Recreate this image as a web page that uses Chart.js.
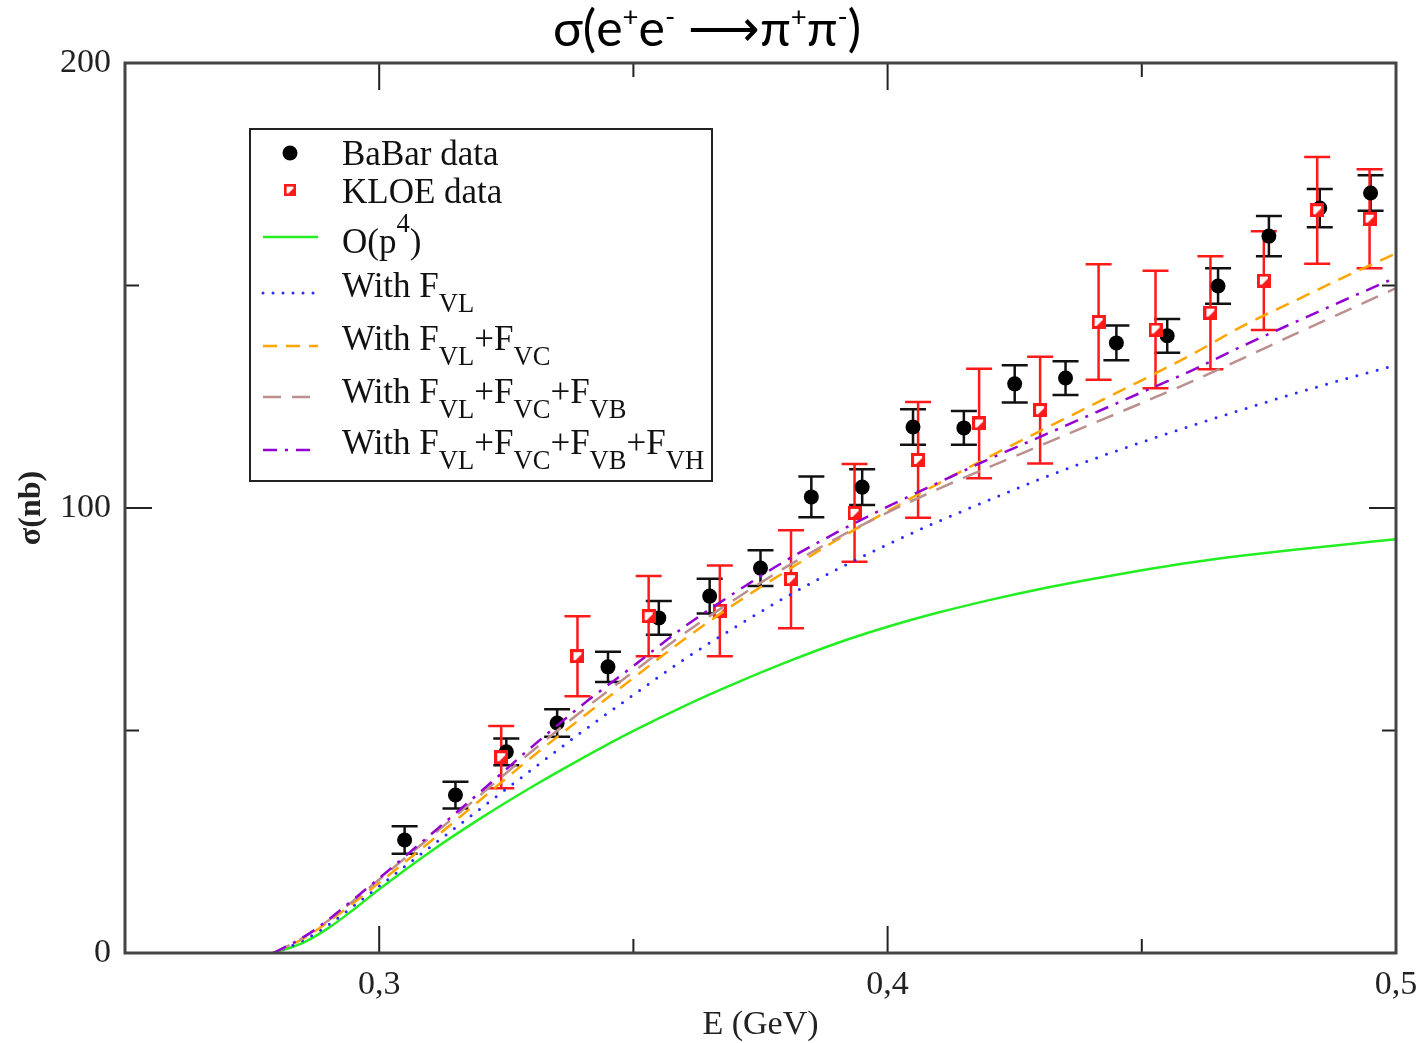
<!DOCTYPE html>
<html>
<head>
<meta charset="utf-8">
<title>σ(e+e- → π+π-)</title>
<script src="https://cdn.jsdelivr.net/npm/chart.js@4.4.1/dist/chart.umd.min.js"></script>
<style>
  html, body { margin: 0; padding: 0; background: #fff; }
  #wrap { width: 1425px; height: 1043px; position: relative; }
</style>
</head>
<body>
<div id="wrap"><canvas id="chart"></canvas></div>
<script>
// energy grid of the theory curves (GeV)
var curveE = [0.2792, 0.285, 0.29, 0.295, 0.30, 0.31, 0.32, 0.33, 0.34, 0.35, 0.36, 0.37, 0.38,
              0.39, 0.40, 0.41, 0.42, 0.43, 0.44, 0.45, 0.46, 0.47, 0.48, 0.49, 0.50];
// cross sections (nb)
var sigmaOp4   = [0, 2.3, 5.6, 9.8, 14.3, 22.7, 30.3, 37.3, 43.8, 49.9, 55.5, 60.6, 65.3,
                  69.6, 73.3, 76.5, 79.3, 81.8, 84.0, 86.0, 87.8, 89.3, 90.6, 91.8, 93.0];
var sigmaVL    = [0, 2.8, 6.3, 10.6, 15, 23.8, 32.5, 41.2, 49.8, 58, 66, 73.2, 80,
                  86.2, 91.8, 97, 101.8, 106.5, 110.8, 114.8, 118.6, 122.2, 125.7, 129.0, 132.1];
var sigmaVLVC  = [0, 3.2, 7, 11.3, 15.8, 25, 34.5, 44, 53, 61.8, 70.5, 78.5, 85.8,
                  92.8, 99.3, 105.5, 111.5, 117.3, 123, 128.7, 134.6, 141, 146.5, 152, 157.2];
var sigmaVLVCVB = [0, 3.4, 7.3, 11.8, 16.5, 26, 35.6, 45.3, 54.5, 63.2, 71.8, 79.5, 86.7,
                  93.2, 99, 104.3, 109.2, 114, 118.8, 123.6, 128.5, 133.7, 139, 144.2, 149.4];
var sigmaAll   = [0, 3.5, 7.5, 12.1, 16.8, 26.5, 36.3, 46.3, 55.8, 64.5, 73.3, 81, 88.2,
                  94.5, 100.3, 105.7, 111, 116, 121, 126, 131, 136.5, 141.7, 146.8, 151.8];

// BaBar measurements
var babarE     = [0.305, 0.315, 0.325, 0.335, 0.345, 0.355, 0.365, 0.375, 0.385, 0.395,
                  0.405, 0.415, 0.425, 0.435, 0.445, 0.455, 0.465, 0.475, 0.485, 0.495];
var babarSigma = [25.4, 35.5, 45.2, 51.7, 64.3, 75.3, 80.2, 86.5, 102.5, 104.7,
                  118.2, 118.0, 127.9, 129.2, 137.1, 138.7, 149.9, 161.1, 167.4, 170.8];
var babarErr   = [3.1, 3.0, 3.0, 3.1, 3.4, 3.8, 3.9, 4.0, 4.6, 4.0,
                  4.0, 3.8, 4.2, 3.8, 3.9, 3.8, 4.0, 4.5, 4.3, 4.0];

// KLOE measurements
var kloeE      = [0.324, 0.339, 0.353, 0.367, 0.381, 0.3935, 0.406, 0.418, 0.430, 0.4415,
                  0.4527, 0.4635, 0.474, 0.4845, 0.4948];
var kloeSigma  = [44.0, 66.7, 75.7, 76.9, 84.0, 98.9, 110.8, 119.0, 122.0, 141.8,
                  140.1, 143.9, 151.1, 166.9, 165.0];
var kloeErr    = [7.0, 9.0, 9.0, 10.2, 11.0, 11.0, 13.0, 12.3, 12.0, 13.0,
                  13.2, 12.7, 11.1, 12.0, 11.1];

var xTicks = [0.3, 0.4, 0.5];
var xMinor = [0.35, 0.45];
var yTicks = [0, 100, 200];
var yMinor = [50, 150];

var colGreen = '#22ee22', colBlue = '#2a2aff', colOrange = '#ffa500',
    colBrown = '#bc8f8f', colViolet = '#9400d3', colRed = '#ff1a1a';

var serif = '"Liberation Serif", "Times New Roman", serif';

function pts(xs, ys) {
  return xs.map(function(x, i) { return { x: x, y: ys[i] }; });
}

// KLOE marker: red square with white interior
function kloeMarker() {
  var c = document.createElement('canvas');
  c.width = 14; c.height = 14;
  var g = c.getContext('2d');
  g.fillStyle = colRed; g.fillRect(0, 0, 14, 14);
  g.fillStyle = '#fff'; g.fillRect(3, 3, 8, 8);
  g.fillStyle = colRed;
  g.beginPath(); g.moveTo(11, 5); g.lineTo(11, 11); g.lineTo(5, 11); g.closePath(); g.fill();
  return c;
}
var kloeIcon = kloeMarker();

// legend rows, each label is a list of [text, 'sub'|'sup'|undefined]
var legendRows = [
  { kind: 'dot', label: [['BaBar data']] },
  { kind: 'square', label: [['KLOE data']] },
  { kind: 'line', color: colGreen, dash: [], label: [['O(p'], ['4', 'sup'], [')']] },
  { kind: 'line', color: colBlue, dash: [0, 10], cap: 'round', width: 3, label: [['With F'], ['VL', 'sub']] },
  { kind: 'line', color: colOrange, dash: [14, 9], label: [['With F'], ['VL', 'sub'], ['+F'], ['VC', 'sub']] },
  { kind: 'line', color: colBrown, dash: [18, 11], label: [['With F'], ['VL', 'sub'], ['+F'], ['VC', 'sub'], ['+F'], ['VB', 'sub']] },
  { kind: 'line', color: colViolet, dash: [14, 8, 3, 8], label: [['With F'], ['VL', 'sub'], ['+F'], ['VC', 'sub'], ['+F'], ['VB', 'sub'], ['+F'], ['VH', 'sub']] }
];

// draws text runs with sub/superscripts; opt gives the small size ratio and offsets
function drawRich(ctx, x, y, parts, size, family, opt) {
  parts.forEach(function(p) {
    var small = p[1] === 'sub' || p[1] === 'sup';
    var fs = small ? size * opt.ratio : size;
    var dy = p[1] === 'sub' ? size * opt.sub : (p[1] === 'sup' ? -size * opt.sup : 0);
    ctx.font = fs + 'px ' + family;
    ctx.fillText(p[0], x, y + dy);
    x += ctx.measureText(p[0]).width;
  });
  return x;
}

function richWidth(ctx, parts, size, family, opt) {
  var w = 0;
  parts.forEach(function(p) {
    var small = p[1] === 'sub' || p[1] === 'sup';
    ctx.font = (small ? size * opt.ratio : size) + 'px ' + family;
    w += ctx.measureText(p[0]).width;
  });
  return w;
}

function drawErrorBars(ctx, xs, ys, errs, color, capHalf, sx, sy) {
  ctx.save();
  ctx.strokeStyle = color;
  ctx.lineWidth = 2.5;
  ctx.beginPath();
  for (var i = 0; i < xs.length; i++) {
    var px = sx.getPixelForValue(xs[i]);
    var top = sy.getPixelForValue(ys[i] + errs[i]);
    var bot = sy.getPixelForValue(ys[i] - errs[i]);
    ctx.moveTo(px, top); ctx.lineTo(px, bot);
    ctx.moveTo(px - capHalf, top); ctx.lineTo(px + capHalf, top);
    ctx.moveTo(px - capHalf, bot); ctx.lineTo(px + capHalf, bot);
  }
  ctx.stroke();
  ctx.restore();
}

var decorations = {
  id: 'decorations',
  beforeDatasetsDraw: function(chart) {
    var ctx = chart.ctx, sx = chart.scales.x, sy = chart.scales.y;
    drawErrorBars(ctx, babarE, babarSigma, babarErr, '#111', 13, sx, sy);
    drawErrorBars(ctx, kloeE, kloeSigma, kloeErr, colRed, 13, sx, sy);
  },
  afterDatasetsDraw: function(chart) {
    var ctx = chart.ctx, a = chart.chartArea, sx = chart.scales.x, sy = chart.scales.y;
    ctx.save();
    // inward ticks on all four sides
    ctx.strokeStyle = '#222';
    ctx.lineWidth = 2;
    ctx.beginPath();
    function xt(v, len) {
      var p = sx.getPixelForValue(v);
      ctx.moveTo(p, a.bottom); ctx.lineTo(p, a.bottom - len);
      ctx.moveTo(p, a.top); ctx.lineTo(p, a.top + len);
    }
    function yt(v, len) {
      var p = sy.getPixelForValue(v);
      ctx.moveTo(a.left, p); ctx.lineTo(a.left + len, p);
      ctx.moveTo(a.right, p); ctx.lineTo(a.right - len, p);
    }
    xTicks.forEach(function(v) { xt(v, 27); });
    xMinor.forEach(function(v) { xt(v, 14); });
    yTicks.forEach(function(v) { yt(v, 27); });
    yMinor.forEach(function(v) { yt(v, 14); });
    ctx.stroke();
    // frame
    ctx.strokeStyle = '#444';
    ctx.lineWidth = 3;
    ctx.strokeRect(a.left, a.top, a.right - a.left, a.bottom - a.top);
    ctx.restore();
  },
  afterDraw: function(chart) {
    var ctx = chart.ctx, a = chart.chartArea;
    ctx.save();
    ctx.textBaseline = 'alphabetic';
    ctx.textAlign = 'left';

    // title
    var tParts = [['σ(e'], ['+', 'sup'], ['e'], ['-', 'sup'], [' \u27F6'], ['π'], ['+', 'sup'], ['π'], ['-', 'sup'], [')']];
    var tFam = 'Lato, "Open Sans", sans-serif';
    var tOpt = { ratio: 0.55, sup: 0.4, sub: 0 };
    var tw = richWidth(ctx, tParts, 50, tFam, tOpt);
    ctx.fillStyle = '#000';
    drawRich(ctx, 707 - tw / 2, 46, tParts, 50, tFam, tOpt);

    // axis titles
    ctx.fillStyle = '#222';
    ctx.font = '34px ' + serif;
    ctx.textAlign = 'center';
    ctx.fillText('E (GeV)', (a.left + a.right) / 2, 1034);
    ctx.save();
    ctx.translate(40, (a.top + a.bottom) / 2);
    ctx.rotate(-Math.PI / 2);
    ctx.font = 'bold 32px ' + serif;
    ctx.fillText('σ(nb)', 0, 0);
    ctx.restore();

    // legend box
    ctx.textAlign = 'left';
    ctx.fillStyle = '#fff';
    ctx.fillRect(250, 129, 462, 352);
    ctx.strokeStyle = '#222';
    ctx.lineWidth = 2;
    ctx.strokeRect(250, 129, 462, 352);
    var baselines = [165, 203, 253, 297, 350, 403, 454];
    var symY = [153, 190, 237, 293, 346, 397, 450];
    var lOpt = { ratio: 0.76, sub: 0.44, sup: 0.6 };
    legendRows.forEach(function(r, i) {
      if (r.kind === 'dot') {
        ctx.fillStyle = '#000';
        ctx.beginPath(); ctx.arc(290, symY[i], 7.5, 0, Math.PI * 2); ctx.fill();
      } else if (r.kind === 'square') {
        ctx.drawImage(kloeIcon, 290 - 6, symY[i] - 6, 12, 12);
      } else {
        ctx.save();
        ctx.strokeStyle = r.color;
        ctx.lineWidth = r.width || 2.5;
        ctx.lineCap = r.cap || 'butt';
        ctx.setLineDash(r.dash);
        ctx.beginPath(); ctx.moveTo(263, symY[i]); ctx.lineTo(318, symY[i]); ctx.stroke();
        ctx.restore();
      }
      ctx.fillStyle = '#111';
      drawRich(ctx, 342, baselines[i], r.label, 35, serif, lOpt);
    });
    ctx.restore();
  }
};

function curve(label, ys, color, dash, extra) {
  var d = {
    label: label,
    data: pts(curveE, ys),
    showLine: true,
    borderColor: color,
    borderWidth: 2.5,
    borderDash: dash,
    pointRadius: 0,
    cubicInterpolationMode: 'monotone',
    fill: false
  };
  if (extra) for (var k in extra) d[k] = extra[k];
  return d;
}

new Chart(document.getElementById('chart'), {
  type: 'scatter',
  data: {
    datasets: [
      curve('With FVL+FVC+FVB+FVH', sigmaAll, colViolet, [14, 8, 3, 8]),
      curve('With FVL+FVC+FVB', sigmaVLVCVB, colBrown, [18, 11]),
      curve('With FVL+FVC', sigmaVLVC, colOrange, [14, 9]),
      curve('With FVL', sigmaVL, colBlue, [0, 10.5], { borderWidth: 3, borderCapStyle: 'round' }),
      curve('O(p4)', sigmaOp4, colGreen, []),
      {
        label: 'KLOE data',
        data: pts(kloeE, kloeSigma),
        pointStyle: kloeIcon,
        pointRadius: 7
      },
      {
        label: 'BaBar data',
        data: pts(babarE, babarSigma),
        pointStyle: 'circle',
        pointRadius: 7.5,
        backgroundColor: '#000',
        borderWidth: 0
      }
    ]
  },
  options: {
    responsive: true,
    maintainAspectRatio: false,
    animation: false,
    devicePixelRatio: 1,
    layout: { padding: { top: 63, right: 29, left: 0, bottom: 0 } },
    plugins: {
      legend: { display: false },
      tooltip: { enabled: false },
      title: { display: false }
    },
    scales: {
      x: {
        type: 'linear',
        min: 0.25,
        max: 0.5,
        grid: { display: false },
        border: { display: false },
        afterBuildTicks: function(s) { s.ticks = xTicks.map(function(v) { return { value: v }; }); },
        afterFit: function(s) { s.height = 90; },
        ticks: {
          color: '#222',
          padding: 4,
          maxRotation: 0,
          font: { family: serif, size: 34 },
          callback: function(v) { return v.toFixed(1).replace('.', ','); }
        }
      },
      y: {
        min: 0,
        max: 200,
        grid: { display: false },
        border: { display: false },
        afterBuildTicks: function(s) { s.ticks = yTicks.map(function(v) { return { value: v }; }); },
        afterFit: function(s) { s.width = 125; },
        ticks: {
          color: '#222',
          padding: 6,
          font: { family: serif, size: 34 },
          callback: function(v) { return String(v); }
        }
      }
    }
  },
  plugins: [decorations]
});
</script>
</body>
</html>
